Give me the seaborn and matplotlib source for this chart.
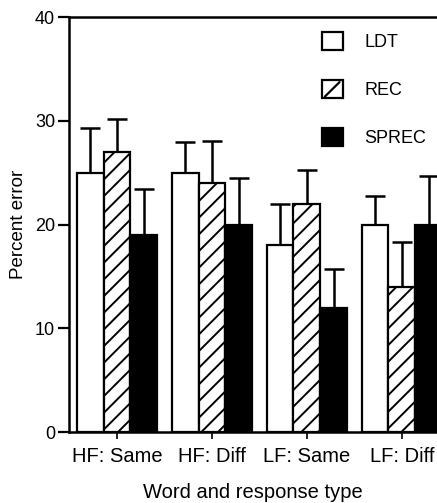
import matplotlib
matplotlib.use("Agg")
import matplotlib.pyplot as plt
from matplotlib.patches import Patch, Rectangle
from matplotlib.lines import Line2D
from matplotlib.legend_handler import HandlerPatch
import seaborn as sns
import pandas as pd
import numpy as np

categories = ["HF: Same", "HF: Diff", "LF: Same", "LF: Diff"]
tasks = ["LDT", "REC", "SPREC"]
ldt = [25, 25, 18, 20]
rec = [27, 24, 22, 14]
sprec = [19, 20, 12, 20]
ldt_err = [4.3, 3.0, 4.0, 2.8]
rec_err = [3.2, 4.1, 3.3, 4.3]
sprec_err = [4.4, 4.5, 3.7, 4.7]

df = pd.DataFrame({
    "cat": categories * 3,
    "task": sum([[t] * 4 for t in tasks], []),
    "val": ldt + rec + sprec,
})
errs = ldt_err + rec_err + sprec_err

sns.set_style("ticks")
plt.rcParams["font.family"] = ["Liberation Sans", "DejaVu Sans"]
for k in ["text.color", "axes.labelcolor", "xtick.color", "ytick.color", "axes.edgecolor"]:
    plt.rcParams[k] = "black"
plt.rcParams["hatch.linewidth"] = 1.4

fig = plt.figure(figsize=(4.37, 5.03), dpi=100)
ax = fig.add_axes([0.158, 0.141, 0.842, 0.825])

sns.barplot(data=df, x="cat", y="val", hue="task", order=categories, hue_order=tasks,
            palette=["white", "white", "black"], width=0.85, gap=0, dodge=True,
            edgecolor="black", linewidth=1.6, errorbar=None, legend=False, ax=ax)

bars = [p for p in ax.patches]
for i, p in enumerate(bars):
    if 4 <= i < 8:
        p.set_hatch("//")
    p.set_zorder(2)

xs = [p.get_x() + p.get_width() / 2 for p in bars]
ys = [p.get_height() for p in bars]
ax.errorbar(xs, ys, yerr=[np.zeros(len(errs)), errs], fmt="none", ecolor="black",
            elinewidth=1.8, capsize=7.5, capthick=1.8, zorder=1)

ax.set_ylim(0, 40)
ax.set_yticks([0, 10, 20, 30, 40])
ax.set_xlim(-0.505, 3.37)
ax.set_ylabel("Percent error", fontsize=13.5, labelpad=6)
ax.set_xlabel("Word and response type", fontsize=14.5, labelpad=12)
ax.tick_params(axis="y", labelsize=13, length=8, width=1.6, pad=2)
ax.tick_params(axis="x", labelsize=14.5, length=5, width=1.2, pad=6)
for s in ["left", "bottom", "top"]:
    ax.spines[s].set_linewidth(1.8)
    ax.spines[s].set_visible(True)
ax.spines["right"].set_visible(False)


class DiagHandler(HandlerPatch):
    def create_artists(self, legend, orig_handle, xdescent, ydescent, width, height,
                       fontsize, trans):
        r = Rectangle((-xdescent, -ydescent), width, height, facecolor="white",
                      edgecolor="black", linewidth=1.6, transform=trans)
        ln = Line2D([-xdescent + 0.15 * width, -xdescent + 0.85 * width],
                    [-ydescent + 0.1 * height, -ydescent + 0.9 * height],
                    color="black", linewidth=1.6, transform=trans)
        return [r, ln]


rec_handle = Patch(facecolor="white", edgecolor="black", linewidth=1.6, label="REC")
handles = [
    Patch(facecolor="white", edgecolor="black", linewidth=1.6, label="LDT"),
    rec_handle,
    Patch(facecolor="black", edgecolor="black", linewidth=1.6, label="SPREC"),
]
ax.legend(handles=handles, loc="upper left", bbox_to_anchor=(0.72, 0.95),
          bbox_transform=fig.transFigure, frameon=False, fontsize=13,
          handlelength=1.15, handleheight=1.15, labelspacing=1.6,
          handletextpad=1.2, borderaxespad=0,
          handler_map={rec_handle: DiagHandler()})

fig.savefig("out.png", dpi=100)
